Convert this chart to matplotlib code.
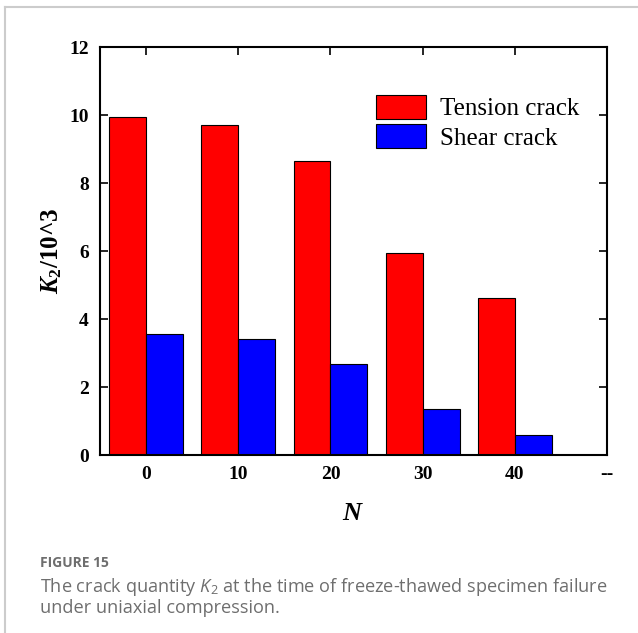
import matplotlib
matplotlib.use("Agg")
import matplotlib.pyplot as plt
import numpy as np
from matplotlib.lines import Line2D

plt.rcParams["mathtext.fontset"] = "custom"
plt.rcParams["mathtext.rm"] = "Liberation Serif:bold"
plt.rcParams["mathtext.it"] = "Liberation Serif:bold:italic"
plt.rcParams["mathtext.bf"] = "Liberation Serif:bold"
plt.rcParams["mathtext.sf"] = "Open Sans:italic"
plt.rcParams["mathtext.tt"] = "Open Sans"

categories = ["0", "10", "20", "30", "40", "--"]
tension = [9.93, 9.70, 8.64, 5.94, 4.62]
shear = [3.57, 3.40, 2.67, 1.34, 0.60]
yticks = [0, 2, 4, 6, 8, 10, 12]

fig = plt.figure(figsize=(6.38, 6.33), dpi=100)
W, H = 638, 633
ax = fig.add_axes([100 / W, 1 - 455 / H, 507 / W, 408 / H])

x = np.arange(len(tension))
bw = 0.4
ax.bar(x, tension, width=-bw, align="edge", color="#ff0000", edgecolor="black",
       linewidth=0.8, label="Tension crack", zorder=2)
ax.bar(x, shear, width=bw, align="edge", color="#0000ff", edgecolor="black",
       linewidth=0.8, label="Shear crack", zorder=2)

ax.set_xlim(-0.5, 5.0)
ax.set_ylim(0, 12)
ax.set_xticks(np.arange(len(categories)))
ax.set_xticklabels(categories)
ax.set_yticks(yticks)
ax.set_yticklabels([str(v) for v in yticks])

serif = ["Liberation Serif", "DejaVu Serif"]
for lab in ax.get_xticklabels() + ax.get_yticklabels():
    lab.set_family(serif)
    lab.set_fontweight("bold")
    lab.set_fontsize(14)

ax.tick_params(axis="both", direction="in", length=6, width=1.2,
               top=True, right=True, pad=8)
ax.tick_params(axis="x", bottom=False)
for s in ax.spines.values():
    s.set_linewidth(1.5)

ax.set_xlabel("$N$", fontsize=19, labelpad=12)
ax.set_ylabel("$K_{\\mathrm{2}}$/10^3", fontsize=18, family=serif,
              fontweight="bold", labelpad=4)

leg = ax.legend(loc="upper left", bbox_to_anchor=(0.525, 0.907), frameon=False,
                prop={"family": serif, "size": 18}, handlelength=2.0,
                handleheight=1.1, handletextpad=0.55, labelspacing=0.15,
                borderaxespad=0)

# page border
fig.add_artist(Line2D([4.5 / W, 1], [1 - 6.5 / H, 1 - 6.5 / H], color="#cccccc", lw=1.5))
fig.add_artist(Line2D([4.5 / W, 4.5 / W], [0, 1 - 6.5 / H], color="#cccccc", lw=1.5))

cap = ["Open Sans", "DejaVu Sans"]
fig.text(40 / W, 1 - 567 / H, "FIGURE 15", family=cap, fontsize=10,
         fontweight="bold", color="#6e6e6e", va="baseline")
fig.text(40 / W, 1 - 592 / H,
         "The crack quantity $\\mathsf{K}_{\\mathtt{2}}$ at the time of freeze-thawed specimen failure",
         family=cap, fontsize=13.1, color="#6e6e6e", va="baseline")
fig.text(40 / W, 1 - 613 / H, "under uniaxial compression.",
         family=cap, fontsize=13.1, color="#6e6e6e", va="baseline")

fig.savefig("out.png", dpi=100)
